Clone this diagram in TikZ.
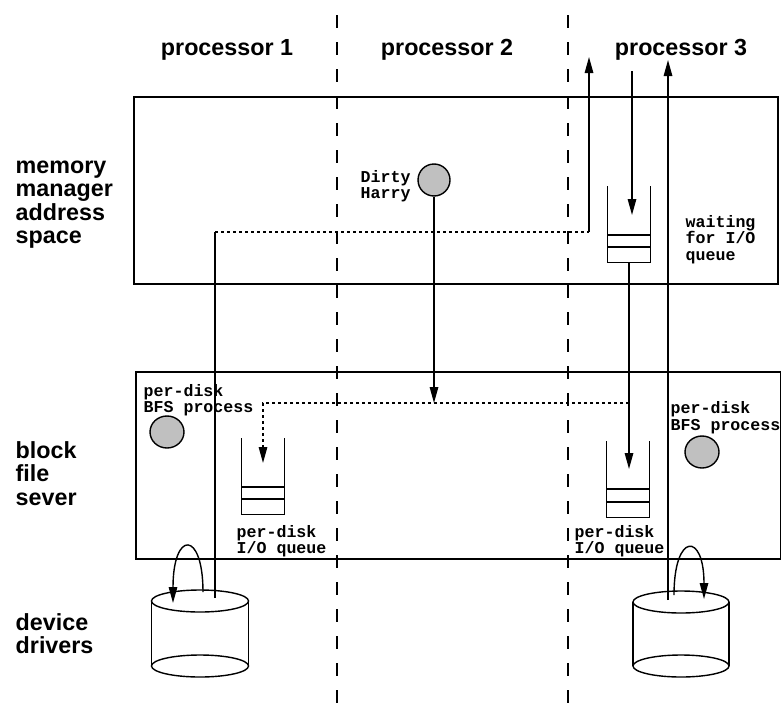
\documentclass[tikz,border=0pt]{standalone}
\usepackage{fontspec}
\setmainfont{Liberation Sans}
\setmonofont{Liberation Mono}
\usetikzlibrary{arrows.meta,shapes.geometric}
\definecolor{discgray}{RGB}{192,192,192}
\begin{document}
\begin{tikzpicture}[x=1pt,y=-1pt,line width=1.4pt,
  lab/.style={font=\fontsize{23.3pt}{23.5pt}\selectfont\bfseries, align=left, inner sep=0, anchor=base west},
  plab/.style={font=\fontsize{23.3pt}{23.5pt}\selectfont\bfseries, inner sep=0, anchor=base},
  mono/.style={font=\fontsize{16.6pt}{16.5pt}\selectfont\ttfamily\bfseries, align=left, inner sep=0, anchor=base west},
  tip/.style={-{Triangle[length=16pt,width=8.5pt]}},
  dotline/.style={dash pattern=on 3pt off 3pt},
  divider/.style={dash pattern=on 13pt off 14pt},
  disc/.style={ellipse, draw, fill=discgray, inner sep=0, minimum width=34pt, minimum height=32pt},
  layer/.style={draw, line width=1.7pt, inner sep=0, anchor=north west},
  queue/.style={inner sep=0, minimum width=42pt, minimum height=75pt}]
\useasboundingbox (0,0) rectangle (781,704);

% processor dividers
\draw[divider] (337,15) -- (337,704);
\draw[divider] (568,15) -- (568,704);

% headings (multi-line nodes are placed by the baseline of their last line)
\node[plab] (p1) at (227,55) {processor 1};
\node[plab] (p2) at (447,55) {processor 2};
\node[plab] (p3) at (681,55) {processor 3};

\node[lab] (mm) at (15,243.5) {memory\\manager\\address\\space};
\node[lab] (bf) at (15,505) {block\\file\\sever};
\node[lab] (dd) at (15,653.5) {device\\drivers};

% layer boxes
\node[layer, minimum width=644pt, minimum height=187pt] (mmbox) at (133,96) {};
\node[layer, minimum width=645pt, minimum height=187pt] (bfbox) at (135,371) {};

% Dirty Harry
\node[disc, minimum width=32pt] (dh) at (434,180) {};
\node[mono] (dhl) at (360,198.5) {Dirty\\Harry};

% waiting for I/O queue
\node[queue] (wq) at (629,224.5) {};
\draw (wq.north west) -- (wq.south west) -- (wq.south east) -- (wq.north east);
\draw (608,235) -- (650,235);
\draw (608,247) -- (650,247);
\node[mono] (wql) at (685,260) {waiting\\for I/O\\queue};

% per-disk I/O queues
\node[queue] (lq) at (263,476.5) {};
\draw (lq.north west) -- (lq.south west) -- (lq.south east) -- (lq.north east);
\draw (242,487) -- (284,487);
\draw (242,499) -- (284,499);
\node[mono] (lql) at (236,553.5) {per-disk\\I/O queue};

\node[queue] (rq) at (628,479.5) {};
\draw (rq.north west) -- (rq.south west) -- (rq.south east) -- (rq.north east);
\draw (607,489) -- (649,489);
\draw (607,502) -- (649,502);
\node[mono] (rql) at (574,553.5) {per-disk\\I/O queue};

% BFS processes
\node[disc] (bfs1) at (167,432) {};
\node[mono] (bfs1l) at (143,412.5) {per-disk\\BFS process};
\node[disc] (bfs2) at (702,452) {};
\node[mono] (bfs2l) at (670,430) {per-disk\\BFS process};

% disks
\draw (200,601) ellipse [x radius=48.5pt, y radius=11pt];
\draw (200,666) ellipse [x radius=48.5pt, y radius=11pt];
\draw (151.5,601) -- (151.5,666);
\draw (248.5,601) -- (248.5,666);
\draw (681,602) ellipse [x radius=48pt, y radius=11pt];
\draw (681,666) ellipse [x radius=48pt, y radius=11pt];
\draw (633,602) -- (633,666);
\draw (729,602) -- (729,666);

% connector points
\coordinate (c1in) at (215,598);
\coordinate (j1) at (215,232);
\coordinate (j2) at (589,232);
\coordinate (out1) at (589,57);
\coordinate (in3) at (632,71);
\coordinate (wqin) at (632,215);
\coordinate (rqin) at (629,469);
\coordinate (dhend) at (434,403);
\coordinate (d1) at (629,403);
\coordinate (d2) at (263,403);
\coordinate (lqin) at (263,463);
\coordinate (c2in) at (668,600);
\coordinate (out2) at (668,60);
\coordinate (l1s) at (203,592);
\coordinate (l1e) at (173,603);
\coordinate (l2s) at (674,595);
\coordinate (l2e) at (704,599);

% connectors
\draw (c1in) -- (j1);
\draw[dotline] (j1) -- (j2);
\draw[tip] (j2) -- (out1);
\draw[tip] (in3) -- (wqin);
\draw[tip] (wq.south) -- (rqin);
\draw[tip] (dh) -- (dhend);
\draw[dotline, tip] (d1) -- (d2) -- (lqin);
\draw[tip] (c2in) -- (out2);
\draw[tip] (l1s) .. controls (203,530) and (173,530) .. (l1e);
\draw[tip] (l2s) .. controls (674,532) and (704,532) .. (l2e);
\end{tikzpicture}
\end{document}
